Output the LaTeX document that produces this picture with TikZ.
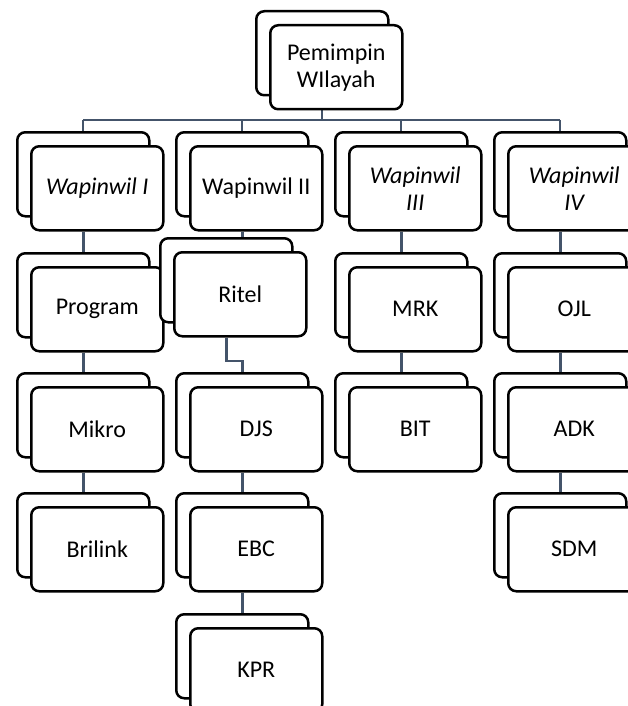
\documentclass[tikz,border=0pt]{standalone}
\usepackage{fontspec}
\setmainfont{Carlito}
\usetikzlibrary{calc,backgrounds}
\definecolor{conn}{HTML}{44546A}
\newcommand\mycard[5][]{%
  \node[card] (#2b) at (#3,#4) {};
  \node[card,#1] (#2) at (#3+14,#4+14) {#5};}
\begin{document}
\begin{tikzpicture}[x=1pt,y=-1pt,
  card/.style={draw=black, line width=2.5pt, rounded corners=8pt, fill=white,
    minimum width=132pt, minimum height=84pt, inner sep=0pt, align=center,
    anchor=north west, font=\fontsize{24}{27}\selectfont},
  ital/.style={font=\fontsize{24}{27}\selectfont\itshape},
  tree/.style={draw=conn, line width=2.2pt},
  chain/.style={draw=conn, line width=2.8pt}]
\useasboundingbox (0,0) rectangle (628,706);
% top
\mycard{top}{255}{10}{Pemimpin\\WIlayah}
% row 1
\mycard[ital]{wa}{16}{131}{Wapinwil I}
\mycard{wb}{175}{131}{Wapinwil II}
\mycard[ital]{wc}{334}{131}{Wapinwil\\III}
\mycard[ital]{wd}{493}{131}{Wapinwil\\IV}
% row 2
\mycard{prog}{16}{252}{Program}
\mycard{ritel}{159}{237}{Ritel}
\mycard{mrk}{334}{252}{MRK}
\mycard{ojl}{493}{252}{OJL}
% row 3
\mycard{mikro}{16}{372}{Mikro}
\mycard{djs}{175}{372}{DJS}
\mycard{bit}{334}{372}{BIT}
\mycard{adk}{493}{372}{ADK}
% row 4
\mycard{bril}{16}{492}{Brilink}
\mycard{ebc}{175}{492}{EBC}
\mycard{sdm}{493}{492}{SDM}
% row 5
\mycard{kpr}{175}{613}{KPR}
\coordinate (bar) at (0,120);
\coordinate (bend) at (0,361);
\begin{scope}[on background layer]
\fill[white] (0,0) rectangle (628,706);
\draw[tree] (topb |- top.south) -- (topb |- bar);
\draw[tree] (wab.north |- bar) -- (wdb.north |- bar);
\foreach \n in {wa,wb,wc,wd} \draw[tree] (\n b.north |- bar) -- (\n b.north);
\draw[chain] (wab |- wa.south) -- (progb.north);
\draw[chain] (progb |- prog.south) -- (mikrob.north);
\draw[chain] (mikrob |- mikro.south) -- (brilb.north);
\draw[chain] (wbb |- wb.south) -- (wbb |- ritelb.north);
\draw[chain] (ritelb |- ritel.south) -- (ritelb |- bend) -| (djsb.north);
\draw[chain] (djsb |- djs.south) -- (ebcb.north);
\draw[chain] (ebcb |- ebc.south) -- (kprb.north);
\draw[chain] (wcb |- wc.south) -- (mrkb.north);
\draw[chain] (mrkb |- mrk.south) -- (bitb.north);
\draw[chain] (wdb |- wd.south) -- (ojlb.north);
\draw[chain] (ojlb |- ojl.south) -- (adkb.north);
\draw[chain] (adkb |- adk.south) -- (sdmb.north);
\end{scope}
\end{tikzpicture}
\end{document}
